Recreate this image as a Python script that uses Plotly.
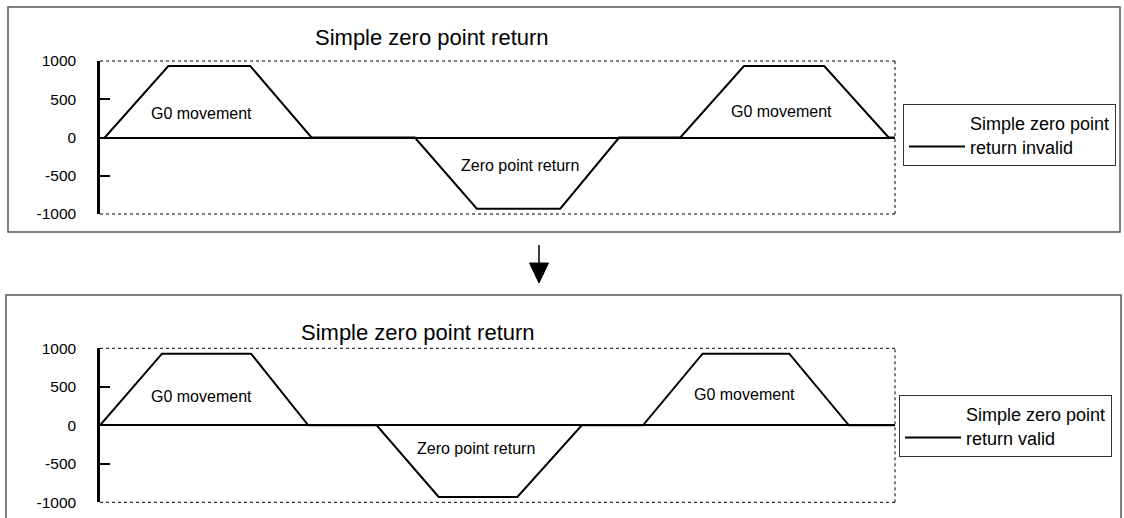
import plotly.graph_objects as go

W, H = 1124, 518

# ---------------- data ----------------
y_ticks = [-1000, -500, 0, 500, 1000]
y_tick_labels = ["-1000", "-500", "0", "500", "1000"]

t_invalid = [0.6, 8.6, 18.9, 26.6, 39.6, 47.4, 57.9, 65.3, 73.0, 81.0, 91.1, 99.2, 100]
pos_invalid = [0, 935, 935, 0, 0, -930, -930, 0, 0, 935, 935, 0, 0]

t_valid = [0, 7.8, 19.0, 26.2, 34.8, 42.6, 52.5, 60.6, 68.3, 75.8, 86.7, 94.2, 100]
pos_valid = [0, 930, 930, 0, 0, -930, -930, 0, 0, 930, 930, 0, 0]

title_text = "Simple zero point return"
name_invalid = "Simple zero point<br>return invalid"
name_valid = "Simple zero point<br>return valid"
label_g0 = "G0 movement"
label_zero = "Zero point return"

# ---------------- helpers (layout only) ----------------
def px(x):
    return x / W

def py(y):
    return (H - y) / H

FONT = "Liberation Sans, Arial, sans-serif"

fig = go.Figure()
fig.add_trace(go.Scatter(x=t_invalid, y=pos_invalid, mode="lines", name=name_invalid,
                         line=dict(color="black", width=2), xaxis="x", yaxis="y",
                         legend="legend", hoverinfo="skip"))
fig.add_trace(go.Scatter(x=t_valid, y=pos_valid, mode="lines", name=name_valid,
                         line=dict(color="black", width=2), xaxis="x2", yaxis="y2",
                         legend="legend2", hoverinfo="skip"))

xdom = [px(100), px(895)]
xcommon = dict(domain=xdom, range=[0, 100], showgrid=False, zeroline=False,
               showticklabels=False, ticks="", showline=False, automargin=False)
ycommon = dict(range=[-1000, 1000], tickvals=y_ticks, ticktext=y_tick_labels,
               showgrid=False, zeroline=True, zerolinecolor="black", zerolinewidth=1.5,
               showline=True, linecolor="black", linewidth=2.5,
               ticks="inside", ticklen=10, tickwidth=2, tickcolor="black",
               ticklabelstandoff=18, automargin=False, layer="above traces",
               tickfont=dict(family=FONT, size=15.5, color="black"))

legend_common = dict(xanchor="left", yanchor="top",
                     bordercolor="#333", borderwidth=1, bgcolor="white",
                     font=dict(family=FONT, size=18, color="black"),
                     itemwidth=56, valign="bottom", entrywidth=156)

fig.update_layout(
    template="none",
    width=W, height=H,
    margin=dict(l=0, r=0, t=0, b=0, autoexpand=False),
    paper_bgcolor="white", plot_bgcolor="white",
    xaxis=dict(**xcommon, anchor="y"),
    yaxis=dict(**ycommon, domain=[py(214), py(61)], anchor="x"),
    xaxis2=dict(**xcommon, anchor="y2"),
    yaxis2=dict(**ycommon, domain=[py(502.3), py(348.3)], anchor="x2"),
    legend=dict(x=px(903), y=py(104), **legend_common),
    legend2=dict(x=px(899), y=py(395), **legend_common),
    showlegend=True,
)

shapes = []
# dotted plot frames (top, right, bottom)
for xr, yr in [("x domain", "y domain"), ("x2 domain", "y2 domain")]:
    for (x0, y0, x1, y1) in [(0, 1, 1, 1), (1, 0, 1, 1), (0, 0, 1, 0)]:
        shapes.append(dict(type="line", xref=xr, yref=yr, x0=x0, x1=x1, y0=y0, y1=y1,
                           line=dict(color="black", width=1, dash="dot"), layer="below"))
# outer panel boxes
shapes.append(dict(type="rect", xref="paper", yref="paper",
                   x0=px(8), x1=px(1120), y0=py(232), y1=py(7),
                   line=dict(color="#555", width=1.5)))
shapes.append(dict(type="rect", xref="paper", yref="paper",
                   x0=px(6), x1=px(1121), y0=py(530), y1=py(295),
                   line=dict(color="#555", width=1.5)))
# arrow between panels
shapes.append(dict(type="line", xref="paper", yref="paper",
                   x0=px(539), x1=px(539), y0=py(245), y1=py(265),
                   line=dict(color="black", width=1.5)))
shapes.append(dict(type="path", xref="paper", yref="paper",
                   path=f"M {px(529.5)},{py(263)} L {px(548.5)},{py(263)} L {px(539)},{py(283)} Z",
                   fillcolor="black", line=dict(color="black", width=1)))
fig.update_layout(shapes=shapes)

ann = []
ann.append(dict(text=title_text, xref="paper", yref="paper", x=px(431.7), y=py(38),
                showarrow=False, xanchor="center", yanchor="middle",
                font=dict(family=FONT, size=22, color="black")))
ann.append(dict(text=title_text, xref="paper", yref="paper", x=px(417.5), y=py(332),
                showarrow=False, xanchor="center", yanchor="middle",
                font=dict(family=FONT, size=22, color="black")))
for txt, x, y, xr, yr in [
    (label_g0, 12.8, 320, "x", "y"),
    (label_zero, 52.8, -360, "x", "y"),
    (label_g0, 85.7, 337, "x", "y"),
    (label_g0, 12.8, 374, "x2", "y2"),
    (label_zero, 47.3, -305, "x2", "y2"),
    (label_g0, 81.1, 396, "x2", "y2"),
]:
    ann.append(dict(text=txt, xref=xr, yref=yr, x=x, y=y, showarrow=False,
                    xanchor="center", yanchor="middle",
                    font=dict(family=FONT, size=16, color="black")))
fig.update_layout(annotations=ann)

fig.write_html("out.html", config={"displayModeBar": False},
               post_script="document.body.style.margin='0';document.body.style.overflow='hidden';")
